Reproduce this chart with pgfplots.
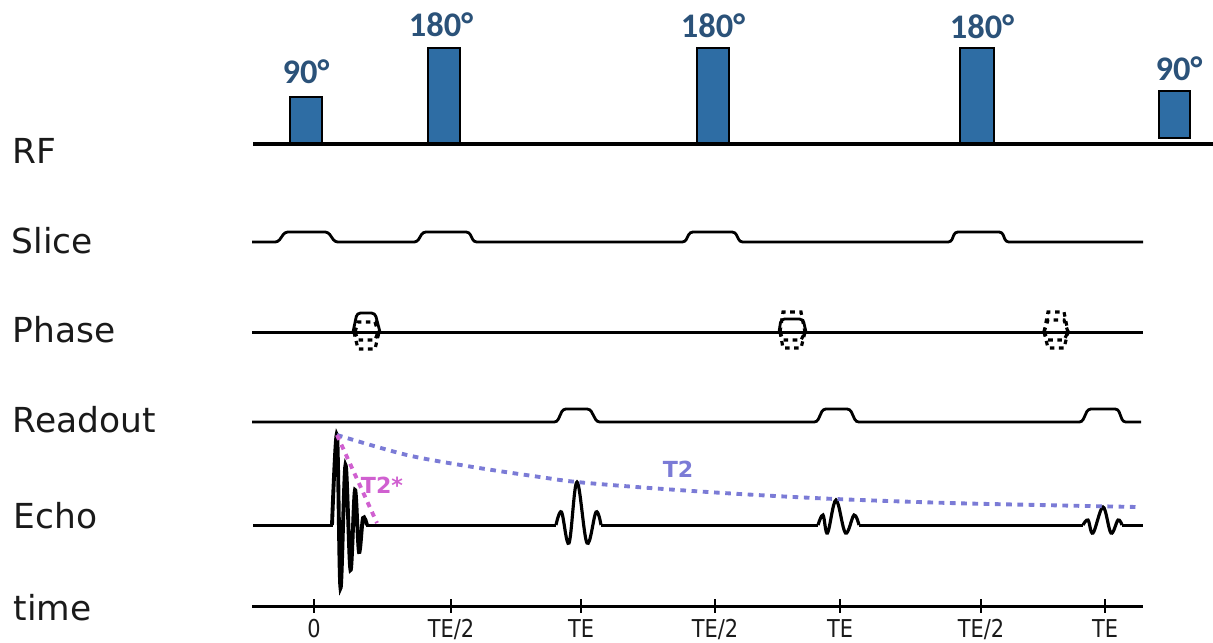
\documentclass[border=0pt]{standalone}
\usepackage{pgfplots}
\pgfplotsset{compat=1.18}
\usepackage{fontspec}
\setmainfont{DejaVu Sans}
\newfontfamily\degfont{Carlito}
\newfontfamily\condfont[FakeStretch=0.85]{DejaVu Sans}
\definecolor{pulse}{HTML}{2E6DA4}
\definecolor{deglab}{HTML}{2B5279}
\definecolor{ttwo}{HTML}{7B7BD6}
\definecolor{ttwostar}{HTML}{D060D0}
\definecolor{lab}{HTML}{1A1A1A}
\tikzset{tlab/.style={anchor=base, lab, font=\condfont\fontsize{7}{8}\selectfont, inner sep=0pt},
  dlab/.style={deglab, anchor=base, inner sep=0pt, font=\degfont\fontsize{9.8}{11}\selectfont\bfseries},
  rlab/.style={lab, anchor=base west, inner sep=0pt, font=\fontsize{9.8}{11}\selectfont}}
\begin{document}
\begin{tikzpicture}
\begin{axis}[
  scale only axis, width=12.13cm, height=6.42cm,
  xmin=0, xmax=1213, ymin=0, ymax=642, y dir=reverse,
  hide axis, clip=false,
  every axis plot/.append style={no markers},
]
\coordinate (BL) at (axis cs:0,642);
\coordinate (TR) at (axis cs:1213,0);
% ---- RF pulses
\addplot[fill=pulse, draw=black, line width=0.65pt] coordinates {(290,144) (290,97) (322,97) (322,144)} -- cycle;
\addplot[fill=pulse, draw=black, line width=0.65pt] coordinates {(428,144) (428,48) (460,48) (460,144)} -- cycle;
\addplot[fill=pulse, draw=black, line width=0.65pt] coordinates {(697,144) (697,48) (729,48) (729,144)} -- cycle;
\addplot[fill=pulse, draw=black, line width=0.65pt] coordinates {(960,144) (960,48) (994,48) (994,144)} -- cycle;
\addplot[fill=pulse, draw=black, line width=0.65pt] coordinates {(1159,138) (1159,91) (1190,91) (1190,138)} -- cycle;
\addplot[black, line width=1.2pt] coordinates {(253,144) (1213,144)};
% ---- Slice
\addplot[black, line width=0.8pt, rounded corners=0.8pt] coordinates {
 (252,242) (278,242) (285,232) (328,232) (335,242) (417,242) (423,232) (469,232) (474,242)
 (685,242) (690,232) (735,232) (740,242) (951,242) (955,232) (1002,232) (1006,242) (1143,242)};
% ---- Phase
\addplot[black, line width=0.85pt] coordinates {(252,332) (1143,332)};
\addplot[black, line width=0.8pt, rounded corners=1pt] coordinates {(353,332) (357,313) (375,313) (380,332)};
\addplot[black, line width=0.9pt, dash pattern=on 1.3pt off 1.3pt] coordinates {(355,332) (358,322) (375,322) (378,332)};
\addplot[black, line width=0.9pt, dash pattern=on 1.3pt off 1.3pt] coordinates {(355,332) (358,340) (375,340) (378,332)};
\addplot[black, line width=0.9pt, dash pattern=on 1.3pt off 1.3pt] coordinates {(354,332) (358,349) (375,349) (379,332)};
\addplot[black, line width=0.8pt, rounded corners=1pt] coordinates {(779,332) (781,319) (803,319) (806,332)};
\addplot[black, line width=0.9pt, dash pattern=on 1.3pt off 1.3pt] coordinates {(780,332) (783,312) (801,312) (805,332)};
\addplot[black, line width=0.9pt, dash pattern=on 1.3pt off 1.3pt] coordinates {(780,332) (783,340) (801,340) (805,332)};
\addplot[black, line width=0.9pt, dash pattern=on 1.3pt off 1.3pt] coordinates {(780,332) (783,348) (801,348) (805,332)};
\addplot[black, line width=0.9pt, dash pattern=on 1.3pt off 1.3pt] coordinates {(1044,332) (1048,312) (1064,312) (1068,332)};
\addplot[black, line width=0.9pt, dash pattern=on 1.3pt off 1.3pt] coordinates {(1044,332) (1048,320) (1064,320) (1068,332)};
\addplot[black, line width=0.9pt, dash pattern=on 1.3pt off 1.3pt] coordinates {(1044,332) (1048,340) (1064,340) (1068,332)};
\addplot[black, line width=0.9pt, dash pattern=on 1.3pt off 1.3pt] coordinates {(1044,332) (1048,348) (1064,348) (1068,332)};
% ---- Readout
\addplot[black, line width=0.8pt, rounded corners=0.8pt] coordinates {
 (252,422) (557,422) (563,409) (590,409) (597,422) (817,422) (823,409) (850,409) (856,422)
 (1082,422) (1088,409) (1118,409) (1123,422) (1141,422)};
% ---- Echo baseline
\addplot[black, line width=0.85pt] coordinates {(253,525) (333,525)};
\addplot[black, line width=0.85pt] coordinates {(366,525) (556,525)};
\addplot[black, line width=0.85pt] coordinates {(601,525) (818,525)};
\addplot[black, line width=0.85pt] coordinates {(859,525) (1083,525)};
\addplot[black, line width=0.85pt] coordinates {(1122,525) (1143,525)};
% FID
\addplot[black, line width=1.1pt, smooth, tension=0.55] coordinates {
 (332,525) (337,435) (340.5,588) (345.5,465) (350.5,570) (355,490) (359,552) (363,518) (367,525)};
% echoes
\addplot[black, line width=0.9pt, smooth, tension=0.6] coordinates {
 (556,525) (561.5,512) (569,543) (577,482) (587,543) (596,512) (601,525)};
\addplot[black, line width=0.9pt, smooth, tension=0.6] coordinates {
 (818,525) (823,515) (827.5,533) (836,500) (845.5,533) (854,515) (859,525)};
\addplot[black, line width=0.9pt, smooth, tension=0.6] coordinates {
 (1083,525) (1088,520) (1093,533) (1103,507) (1111,533) (1118,520) (1122,525)};
% T2 and T2*
\addplot[ttwo, line width=1.1pt, dash pattern=on 1.6pt off 1.6pt, smooth, tension=0.5] coordinates {
 (337,435) (407,455) (473,467) (540,477) (577,482) (650,488) (740,494) (836,499) (950,503) (1040,505) (1138,507)};
\addplot[ttwostar, line width=1.1pt, dash pattern=on 1.5pt off 1.5pt] coordinates {(337,435) (377,523)};
\node[ttwo, font=\fontsize{6.3}{7}\selectfont\bfseries] at (axis cs:678,469) {T2};
\node[ttwostar, font=\fontsize{6.3}{7}\selectfont\bfseries] at (axis cs:382,485) {T2*};
% ---- time axis
\addplot[black, line width=0.85pt] coordinates {(252,606) (1143,606)};
\addplot[black, line width=0.6pt] coordinates {(314,599) (314,613)};
\addplot[black, line width=0.6pt] coordinates {(451,599) (451,613)};
\addplot[black, line width=0.6pt] coordinates {(581,599) (581,613)};
\addplot[black, line width=0.6pt] coordinates {(715,599) (715,613)};
\addplot[black, line width=0.6pt] coordinates {(840,599) (840,613)};
\addplot[black, line width=0.6pt] coordinates {(981,599) (981,613)};
\addplot[black, line width=0.6pt] coordinates {(1105,599) (1105,613)};
\node[tlab] at (axis cs:314,637) {0};
\node[tlab] at (axis cs:451,637) {TE/2};
\node[tlab] at (axis cs:581,637) {TE};
\node[tlab] at (axis cs:715,637) {TE/2};
\node[tlab] at (axis cs:840,637) {TE};
\node[tlab] at (axis cs:981,637) {TE/2};
\node[tlab] at (axis cs:1105,637) {TE};
% ---- degree labels
\node[dlab] at (axis cs:306,83) {90°};
\node[dlab] at (axis cs:441,36) {180°};
\node[dlab] at (axis cs:713,37) {180°};
\node[dlab] at (axis cs:982,38) {180°};
\node[dlab] at (axis cs:1179,80) {90°};
% ---- row labels
\node[rlab] at (axis cs:12,163) {RF};
\node[rlab] at (axis cs:11,253) {Slice};
\node[rlab] at (axis cs:12,342) {Phase};
\node[rlab] at (axis cs:12,432) {Readout};
\node[rlab] at (axis cs:13,528) {Echo};
\node[rlab] at (axis cs:13,620) {time};
\end{axis}
\pgfresetboundingbox
\path (BL) rectangle (TR);
\end{tikzpicture}
\end{document}
